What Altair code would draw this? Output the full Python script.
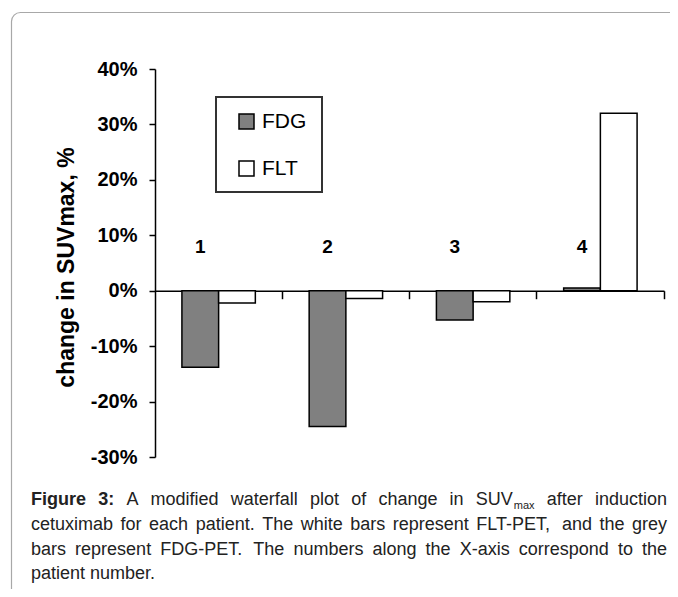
import altair as alt
import pandas as pd

# ---------------- data ----------------
patients = ["1", "2", "3", "4"]
series = ["FDG", "FLT"]
fdg_change = [-0.138, -0.245, -0.053, 0.005]
flt_change = [-0.022, -0.014, -0.020, 0.320]
series_colors = ["#808080", "#ffffff"]
y_ticks = [-0.3, -0.2, -0.1, 0.0, 0.1, 0.2, 0.3, 0.4]
label_level = [0.079, 0.079, 0.079, 0.079]
y_title = "change in SUVmax, %"

caption_line1 = [("Figure", "bold"), ("3:", "bold"), ("A", "normal"), ("modified", "normal"),
                 ("waterfall", "normal"), ("plot", "normal"), ("of", "normal"), ("change", "normal"),
                 ("in", "normal"), ("SUV", "normal"), ("max", "sub"), ("after", "normal"),
                 ("induction", "normal")]
caption_line2 = "cetuximab for each patient. The white bars represent FLT-PET, and the grey"
caption_line3 = "bars represent FDG-PET. The numbers along the X-axis correspond to the"
caption_line4 = "patient number."

# ---------------- layout ----------------
W, H = 509, 388
PAD = {"left": 147, "top": 61, "right": 6, "bottom": 132}
FONT = "Liberation Sans, Arial, Helvetica, sans-serif"
CAP_SIZE = 18
CAP_L, CAP_R = 31 - 155, 667 - 155          # relative to plot origin
CAP_Y = [505 - 69, 530 - 69, 555 - 69, 579 - 69]
P_IN, P_OUT = 0.423, 0.2115
TICK_BAND_POS = (1 - P_OUT) / (1 - P_IN)     # ticks at the step boundaries

REG = {' ': 278, 'a': 556, 'b': 556, 'c': 500, 'd': 556, 'e': 556, 'f': 278, 'g': 556, 'h': 556,
       'i': 222, 'j': 222, 'k': 500, 'l': 222, 'm': 833, 'n': 556, 'o': 556, 'p': 556, 'q': 556,
       'r': 333, 's': 500, 't': 278, 'u': 556, 'v': 500, 'w': 722, 'x': 500, 'y': 500, 'z': 500,
       'A': 667, 'D': 722, 'E': 667, 'F': 611, 'G': 778, 'L': 556, 'P': 667, 'S': 667, 'T': 611,
       'U': 722, 'V': 667, 'X': 667, '.': 278, ',': 278, ':': 278, '-': 333, '%': 889}
BOLD = {'F': 611, 'i': 278, 'g': 611, 'u': 611, 'r': 389, 'e': 556, '3': 556, ':': 333, ' ': 278}


def text_w(s, size, bold=False):
    tab = BOLD if bold else REG
    return sum(tab.get(ch, 556) for ch in s) * size / 1000.0


def justify(tokens, y):
    """tokens: list of (word, style). returns list of (word, x, y, size, weight)."""
    sizes = []
    total = 0.0
    gaps = 0
    for i, (w, st) in enumerate(tokens):
        if st == "sub":
            wd = text_w(w, 11) + 1
        else:
            wd = text_w(w, CAP_SIZE, st == "bold")
            if i > 0:
                gaps += 1
        sizes.append(wd)
        total += wd
    gap = (CAP_R - CAP_L - total) / max(gaps, 1)
    out = []
    x = CAP_L
    for i, ((w, st), wd) in enumerate(zip(tokens, sizes)):
        if st == "sub":
            out.append((w, x + 1, y + 4, 11, "normal"))
            x += wd
        else:
            if i > 0:
                x += gap
            out.append((w, x, y, CAP_SIZE, "bold" if st == "bold" else "normal"))
            x += wd
    return out


caption_items = []
caption_items += justify(caption_line1, CAP_Y[0])
caption_items += justify([(w, "normal") for w in caption_line2.split()], CAP_Y[1])
caption_items += justify([(w, "normal") for w in caption_line3.split()], CAP_Y[2])
caption_items.append((caption_line4, CAP_L, CAP_Y[3], CAP_SIZE, "normal"))

# ---------------- chart ----------------
rows = []
for p, f, l in zip(patients, fdg_change, flt_change):
    rows.append({"patient": p, "series": "FDG", "value": f})
    rows.append({"patient": p, "series": "FLT", "value": l})
df = pd.DataFrame(rows)
lab_df = pd.DataFrame({"patient": patients, "series": ["FDG"] * 4, "level": label_level})
one = pd.DataFrame({"a": [0]})

x_enc = alt.X("patient:N", sort=patients,
              scale=alt.Scale(paddingInner=P_IN, paddingOuter=P_OUT),
              axis=alt.Axis(title=None, labels=False, ticks=True, bandPosition=TICK_BAND_POS,
                            grid=False, domainColor="black", domainWidth=1.5, tickColor="black",
                            tickWidth=1.5, tickSize=8, offset=-H * 0.3 / 0.7))
xo_enc = alt.XOffset("series:N", sort=series,
                     scale=alt.Scale(domain=series, paddingInner=0, paddingOuter=0))
y_scale = alt.Scale(domain=[-0.3, 0.4], nice=False, zero=False)
y_axis = alt.Axis(values=y_ticks, grid=False,
                  labelExpr="(datum.value < -0.001 ? '-' : '') + round(abs(datum.value) * 100) + '%'",
                  domainColor="black", domainWidth=1.5, tickColor="black", tickWidth=1.5,
                  tickSize=6, labelFontSize=20, labelFontWeight="bold", labelColor="black",
                  labelFont=FONT, labelPadding=12, titleFontSize=23, titleFontWeight="bold",
                  titleColor="black", titleFont=FONT, titleX=-82, titleY=198,
                  titleAlign="center", titleBaseline="alphabetic", titleAngle=270)

frame = alt.Chart(one).mark_rect(fill="transparent", stroke="#a8a8a8", strokeWidth=1.2,
                                 cornerRadius=9).encode(
    x=alt.value(11.5 - 155), x2=alt.value(700 - 155),
    y=alt.value(12.5 - 69), y2=alt.value(H + PAD["bottom"] + 60))

legend_box = alt.Chart(one).mark_rect(fill="transparent", stroke="#333333", strokeWidth=2).encode(
    x=alt.value(61), x2=alt.value(167), y=alt.value(28), y2=alt.value(123))

bars = alt.Chart(df).mark_bar(stroke="black", strokeWidth=1.5).encode(
    x=x_enc, xOffset=xo_enc,
    y=alt.Y("value:Q", stack=None, scale=y_scale, axis=y_axis, title=y_title),
    y2=alt.datum(0),
    color=alt.Color("series:N", scale=alt.Scale(domain=series, range=series_colors),
                    legend=alt.Legend(title=None, orient="none", legendX=81, legendY=42,
                                      symbolType="square", symbolSize=225,
                                      symbolStrokeColor="black", symbolStrokeWidth=1.5,
                                      labelFontSize=21, labelFont=FONT, labelColor="black",
                                      labelOffset=5, rowPadding=25, padding=0)))

labels = alt.Chart(lab_df).mark_text(fontSize=19, fontWeight="bold", font=FONT,
                                     baseline="middle", color="black").encode(
    x=x_enc, xOffset=xo_enc,
    y=alt.Y("level:Q", scale=y_scale, title=y_title),
    text="patient:N")

caption_layers = []
for (w, x, y, size, weight) in caption_items:
    caption_layers.append(
        alt.Chart(one).mark_text(text=w, align="left", baseline="alphabetic", font=FONT,
                                 fontSize=size, fontWeight=weight, color="#222222").encode(
            x=alt.value(x), y=alt.value(y)))

chart = alt.layer(frame, legend_box, bars, labels, *caption_layers).properties(
    width=W, height=H, padding=PAD, autosize=alt.AutoSizeParams(type="none")
).configure(font=FONT).configure_view(stroke="transparent")

chart.save("out.html", embed_options={"renderer": "svg", "actions": False})
